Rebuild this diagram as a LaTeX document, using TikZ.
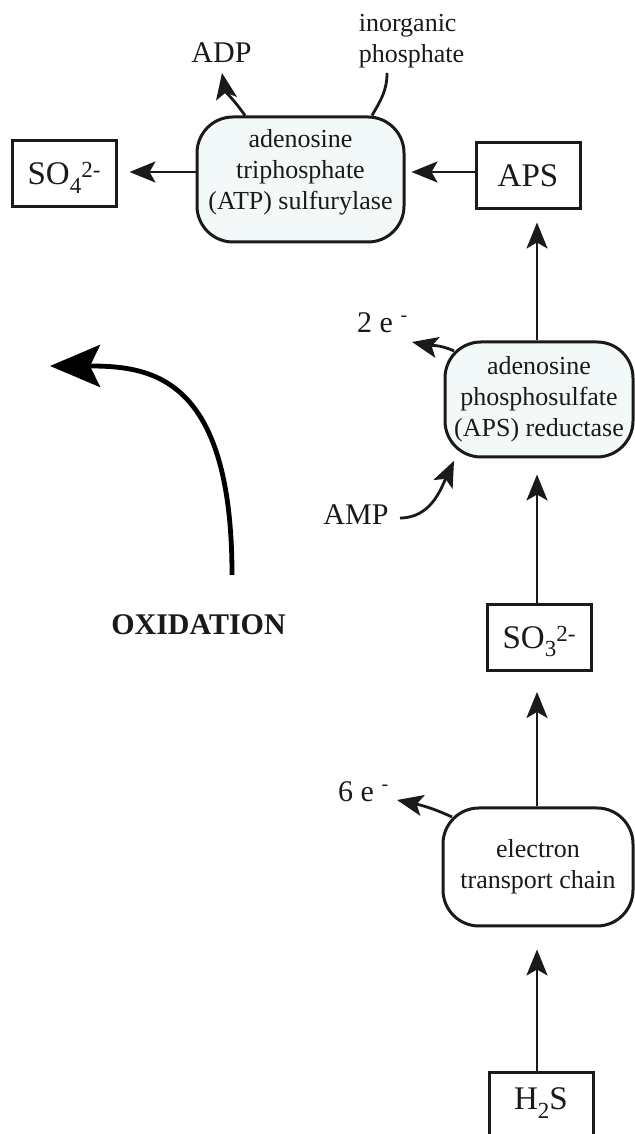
\documentclass[tikz,border=0pt]{standalone}
\usepackage{fontspec}
\setmainfont{Liberation Serif}
\usetikzlibrary{arrows.meta}
\definecolor{ink}{HTML}{1A1A1A}
\definecolor{enzfill}{HTML}{F3F8F8}
\newcommand\chemsub[1]{\raisebox{-8.5pt}{\fontsize{23}{23}\selectfont #1}}
\newcommand\chemsup[1]{\raisebox{7pt}{\fontsize{23}{23}\selectfont #1}}
\newcommand\esup{\raisebox{11pt}{\fontsize{20}{20}\selectfont -}}
\begin{document}
\begin{tikzpicture}[x=1pt,y=1pt,
  box/.style={draw=ink, line width=3pt, fill=white, minimum width=104pt, minimum height=66pt,
    inner sep=0pt, text height=22pt, text depth=0pt, font=\fontsize{33}{38}\selectfont, text=ink},
  enzyme/.style={draw=ink, line width=3pt, rounded corners=36pt, inner sep=0pt, fill=enzfill},
  enztext/.style={align=center, font=\fontsize{26}{31}\selectfont, text=ink, inner sep=0pt},
  lbl/.style={font=\fontsize{30}{36}\selectfont, text=ink, inner sep=0pt},
  conn/.style={draw=ink, line width=2.8pt},
  arr/.style={conn, -{Stealth[length=26pt,width=21pt,inset=6pt]}},
  bigarr/.style={draw=black, line width=4.8pt, -{Stealth[length=50pt,width=42pt,inset=10pt]}}]
\useasboundingbox (0,0) rectangle (634,1134);
\fill[white] (0,0) rectangle (634,1134);

% nodes
\node[box] (so4) at (64,960) {SO\chemsub{4}\chemsup{2-}};
\node[box] (aps) at (528,958) {APS};
\node[enzyme, minimum width=207pt, minimum height=125pt] (atp) at (300.5,954.5) {};
\node[enztext] (atptext) at ([yshift=7pt]atp.center) {adenosine\\triphosphate\\(ATP) sulfurylase};
\node[enzyme, enztext, minimum width=188pt, minimum height=115pt] (apsr) at (539,734.5)
  {adenosine\\phosphosulfate\\(APS) reductase};
\node[box] (so3) at (539,496.5) {SO\chemsub{3}\chemsup{2-}};
\node[enzyme, enztext, fill=white, minimum width=190pt, minimum height=118pt] (etc) at (538,267)
  {electron\\transport chain};
\node[box, minimum height=80pt, text depth=28pt] (h2s) at (541,21) {H\chemsub{2}S};

\node[lbl, anchor=base] (adp) at (221.5,1071) {ADP};
\node[enztext, align=left] (pi) at (411.5,1092.5) {inorganic\\phosphate};
\node[lbl, anchor=base west] (e2) at (357,801) {2 e \esup};
\node[lbl, anchor=base] (amp) at (356,609) {AMP};
\node[lbl, anchor=base west] (e6) at (338,332) {6 e \esup};
\node[font=\bfseries\fontsize{30}{36}\selectfont, text=ink, inner sep=0pt, anchor=base] (ox) at (198.5,499) {OXIDATION};

\coordinate (hy) at (0,962);
\coordinate (vx) at (537,0);
\coordinate (adptip) at (222,1061);
\coordinate (pistart) at (387,1061);
\coordinate (e2tip) at (412,792);
\coordinate (e6tip) at (397,334);
\coordinate (ampstart) at (400,616);
\coordinate (oxstart) at (232,559);
\coordinate (oxtip) at (50,768);

% straight connectors
\draw[arr, shorten >=6pt] (aps.west |- hy) -- (atp.east |- hy);
\draw[arr, shorten >=12pt] (atp.west |- hy) -- (so4.east |- hy);
\draw[arr, shorten >=12pt] (apsr.north -| vx) -- (aps.south -| vx);
\draw[arr, shorten >=16pt] (so3.north -| vx) -- (apsr.south -| vx);
\draw[arr, shorten >=20pt] (etc.north -| vx) -- (so3.south -| vx);
\draw[arr, shorten >=22pt] (h2s.north -| vx) -- (etc.south -| vx);

% curved connectors
\draw[arr] ([xshift=-55.5pt]atp.north) to[out=125,in=-80] (adptip);
\draw[conn] (pistart) to[out=-90,in=60] ([xshift=71.5pt]atp.north);
\draw[arr] ([shift={(10.5pt,-10.5pt)}]apsr.north west) to[out=155,in=-12] (e2tip);
\draw[arr] ([shift={(10.5pt,-10.5pt)}]etc.north west) to[out=155,in=-12] (e6tip);
\draw[arr] (ampstart) to[out=0,in=-115] ([shift={(10.5pt,-2.3pt)}]apsr.south west);

\draw[bigarr] (oxstart) .. controls (232,759) and (150,768) .. (oxtip);
\end{tikzpicture}
\end{document}
